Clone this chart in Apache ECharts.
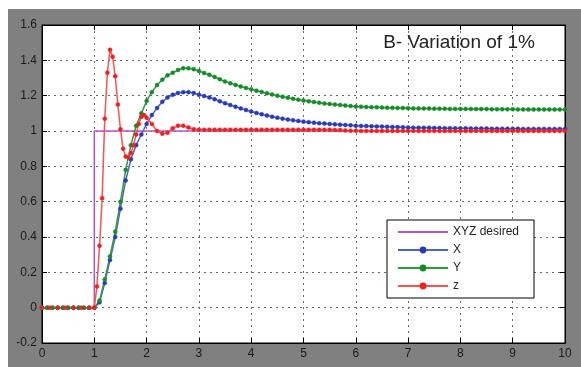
<!DOCTYPE html>
<html>
<head>
<meta charset="utf-8">
<script src="https://cdn.jsdelivr.net/npm/echarts@6/dist/echarts.min.js"></script>
<style>html,body{margin:0;padding:0;background:#fff;}#c{width:581px;height:367px;}</style>
</head>
<body>
<div id="c"></div>
<script>
// ---- data ----
const titleText = 'B- Variation of 1%';
const legendNames = ['XYZ desired', 'X', 'Y', 'z'];
const xTicks = [0,1,2,3,4,5,6,7,8,9,10];

const desiredTime = [0, 1, 1, 10];
const desiredValues = [0, 0, 1, 1];

const tXY = [0,0.1,0.2,0.3,0.4,0.5,0.6,0.7,0.8,0.9,1.0,
  1.1,1.2,1.3,1.4,1.5,1.6,1.7,1.8,1.9,2.0,
  2.1,2.2,2.3,2.4,2.5,2.6,2.7,2.8,2.9,3.0,
  3.1,3.2,3.3,3.4,3.5,3.6,3.7,3.8,3.9,4.0,
  4.1,4.2,4.3,4.4,4.5,4.6,4.7,4.8,4.9,5.0,
  5.1,5.2,5.3,5.4,5.5,5.6,5.7,5.8,5.9,6.0,
  6.1,6.2,6.3,6.4,6.5,6.6,6.7,6.8,6.9,7.0,
  7.1,7.2,7.3,7.4,7.5,7.6,7.7,7.8,7.9,8.0,
  8.1,8.2,8.3,8.4,8.5,8.6,8.7,8.8,8.9,9.0,
  9.1,9.2,9.3,9.4,9.5,9.6,9.7,9.8,9.9,10.0];

const xValues = [0,0,0,0,0,0,0,0,0,0,0,
  0.03,0.14,0.27,0.40,0.56,0.72,0.84,0.92,0.98,1.04,
  1.09,1.13,1.165,1.19,1.205,1.215,1.22,1.22,1.215,1.205,
  1.198,1.19,1.18,1.168,1.157,1.147,1.137,1.128,1.119,1.11,
  1.102,1.095,1.088,1.081,1.075,1.07,1.065,1.061,1.057,1.053,
  1.05,1.047,1.044,1.042,1.04,1.038,1.036,1.034,1.032,1.030,
  1.029,1.028,1.027,1.026,1.025,1.024,1.023,1.022,1.021,1.020,
  1.019,1.019,1.018,1.018,1.017,1.017,1.016,1.016,1.015,1.015,
  1.015,1.014,1.014,1.014,1.014,1.013,1.013,1.013,1.013,1.013,
  1.013,1.012,1.012,1.012,1.012,1.012,1.012,1.012,1.012,1.012];

const yValues = [0,0,0,0,0,0,0,0,0,0,0,
  0.04,0.16,0.29,0.43,0.60,0.78,0.92,1.03,1.10,1.17,
  1.22,1.26,1.29,1.315,1.33,1.345,1.355,1.355,1.35,1.34,
  1.328,1.318,1.306,1.293,1.28,1.27,1.261,1.252,1.244,1.236,
  1.228,1.221,1.214,1.207,1.20,1.194,1.188,1.182,1.177,1.172,
  1.168,1.164,1.16,1.156,1.153,1.15,1.147,1.144,1.141,1.138,
  1.137,1.136,1.135,1.134,1.133,1.132,1.131,1.130,1.130,1.129,
  1.128,1.128,1.127,1.127,1.126,1.126,1.126,1.125,1.125,1.125,
  1.125,1.124,1.124,1.124,1.124,1.123,1.123,1.123,1.123,1.123,
  1.122,1.122,1.122,1.122,1.122,1.122,1.122,1.122,1.122,1.122];

const tZ = [0,0.15,0.3,0.45,0.6,0.75,0.9,1.0,
  1.05,1.1,1.15,1.2,1.25,1.3,1.35,1.4,1.45,1.5,
  1.55,1.6,1.65,1.7,1.75,1.8,1.85,1.9,1.95,2.0,
  2.1,2.2,2.3,2.4,2.5,2.6,2.7,2.8,2.9,3.0,
  3.1,3.2,3.3,3.4,3.5,3.6,3.7,3.8,3.9,4.0,
  4.1,4.2,4.3,4.4,4.5,4.6,4.7,4.8,4.9,5.0,
  5.1,5.2,5.3,5.4,5.5,5.6,5.7,5.8,5.9,6.0,
  6.1,6.2,6.3,6.4,6.5,6.6,6.7,6.8,6.9,7.0,
  7.1,7.2,7.3,7.4,7.5,7.6,7.7,7.8,7.9,8.0,
  8.1,8.2,8.3,8.4,8.5,8.6,8.7,8.8,8.9,9.0,
  9.1,9.2,9.3,9.4,9.5,9.6,9.7,9.8,9.9,10.0];

const zValues = [0,0,0,0,0,0,0,0,
  0.12,0.35,0.62,1.07,1.33,1.46,1.42,1.31,1.15,1.01,
  0.90,0.855,0.85,0.875,0.92,0.98,1.04,1.08,1.09,1.075,
  1.04,1.0,0.985,0.99,1.015,1.03,1.03,1.02,1.01,1.007,
  1.007,1.007,1.007,1.007,1.007,1.007,1.007,1.007,1.007,1.007,
  1.007,1.007,1.007,1.007,1.007,1.007,1.007,1.007,1.007,1.007,
  1.007,1.007,1.007,1.007,1.007,1.006,1.005,1.003,1.002,1.001,
  1.0,1.0,1.0,1.0,1.0,1.0,1.0,1.0,1.0,1.0,
  1.0,1.0,1.0,1.0,1.0,1.0,1.0,1.0,1.0,1.0,
  1.0,1.0,1.0,1.0,1.0,1.0,1.0,1.0,1.0,1.0,
  1.0,1.0,1.0,1.0,1.0,1.0,1.0,1.0,1.0,1.0];

function pairs(t, v) { return t.map((x, i) => [x, v[i]]); }

const chart = echarts.init(document.getElementById('c'), null, {renderer: 'canvas'});
const font = 'Liberation Sans, Arial, sans-serif';

const lineSeries = (name, t, v, color, markColor) => ({
  name, type: 'line', data: pairs(t, v),
  symbol: 'circle', symbolSize: 4, showSymbol: true,
  lineStyle: {color, width: 1.5},
  itemStyle: {color: markColor, borderColor: markColor, borderWidth: 0.5},
  emphasis: {disabled: true}, animation: false, z: 3
});

const gridLine = {show: true, lineStyle: {color: '#666', type: [2, 4], width: 1}};
const tick = {show: true, inside: true, length: 5, lineStyle: {color: '#000'}};

chart.setOption({
  animation: false,
  backgroundColor: '#fff',
  graphic: [
    {type: 'rect', z: -100, silent: true, shape: {x: 8, y: 9, width: 573, height: 358}, style: {fill: '#808080'}},
    {type: 'text', z: 100, x: 459, y: 43, style: {text: titleText, font: '19px ' + font, fill: '#222', textAlign: 'center', textVerticalAlign: 'middle'}}
  ],
  grid: {left: 42, right: 16, top: 25, bottom: 24, show: true, backgroundColor: '#fff', borderColor: '#000', borderWidth: 1},
  legend: {
    orient: 'vertical', left: 387, top: 220,
    data: [
      {name: legendNames[0], itemStyle: {opacity: 0}},
      {name: legendNames[1]}, {name: legendNames[2]}, {name: legendNames[3]}
    ],
    itemWidth: 50, itemHeight: 6, itemGap: 4,
    padding: [5, 15, 5, 10],
    backgroundColor: '#fff', borderColor: '#000', borderWidth: 1,
    textStyle: {fontSize: 12, fontFamily: font, color: '#222', lineHeight: 14}
  },
  xAxis: [{
    type: 'value', min: 0, max: 10, interval: 1,
    axisLine: {onZero: false, lineStyle: {color: '#000', width: 1}},
    axisTick: tick,
    axisLabel: {margin: 5, fontSize: 12, fontFamily: font, color: '#1a1a1a', formatter: v => String(xTicks[Math.round(v)])},
    splitLine: gridLine
  }, {
    type: 'value', position: 'top', min: 0, max: 10, interval: 1,
    axisLine: {onZero: false, lineStyle: {color: '#000', width: 1}},
    axisTick: tick, axisLabel: {show: false}, splitLine: {show: false}
  }],
  yAxis: [{
    type: 'value', min: -0.2, max: 1.6, interval: 0.2,
    axisLine: {show: true, onZero: false, lineStyle: {color: '#000', width: 1}},
    axisTick: tick,
    axisLabel: {margin: 5, fontSize: 12, fontFamily: font, color: '#1a1a1a', formatter: v => String(parseFloat(v.toFixed(1)))},
    splitLine: gridLine
  }, {
    type: 'value', position: 'right', min: -0.2, max: 1.6, interval: 0.2,
    axisLine: {show: true, onZero: false, lineStyle: {color: '#000', width: 1}},
    axisTick: tick, axisLabel: {show: false}, splitLine: {show: false}
  }],
  series: [
    {name: 'XYZ desired', type: 'line', data: pairs(desiredTime, desiredValues), symbol: 'none',
     lineStyle: {color: '#b455c4', width: 1.5}, itemStyle: {color: '#b455c4'}, emphasis: {disabled: true}, z: 2},
    lineSeries('X', tXY, xValues, '#5060cc', '#2a3ab8'),
    lineSeries('Y', tXY, yValues, '#2e9c3e', '#178a2a'),
    lineSeries('z', tZ, zValues, '#ff5050', '#f02020')
  ]
});
</script>
</body>
</html>
